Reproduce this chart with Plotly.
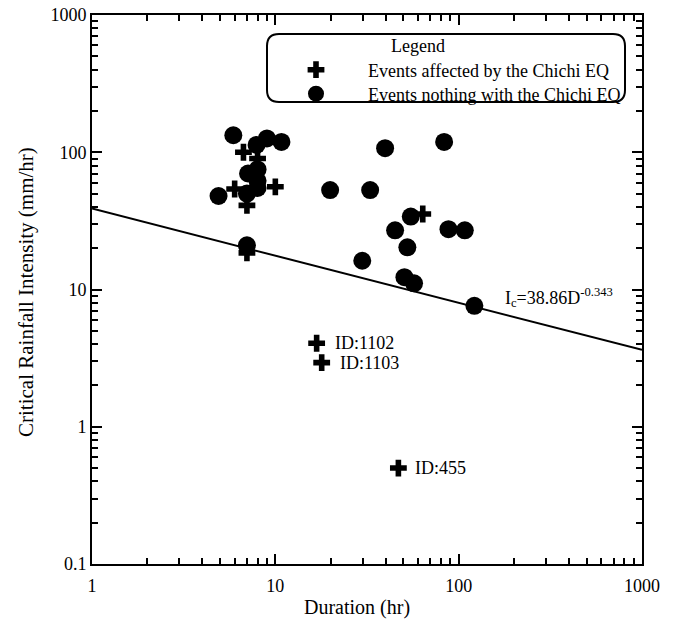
import math
import plotly.graph_objects as go

# Events affected by the Chichi EQ (plus markers)
aff_dur = [6.7, 8.0, 6.0, 10.0, 7.0, 7.0, 63.7, 16.8, 17.9, 46.9]
aff_int = [100, 90, 54, 56, 41, 18.5, 35.5, 4.06, 2.93, 0.5]

# Events nothing with the Chichi EQ (filled circles)
non_dur = [5.9, 9.0, 10.8, 7.9, 7.1, 8.0, 8.0, 4.9, 7.0, 8.0, 7.0,
           39.7, 83.3, 19.9, 32.9, 54.8, 45.0, 88.0, 108.0, 52.5, 29.8, 50.6, 57.1, 121.8]
non_int = [133, 126, 119, 113, 70, 75, 62, 48, 50, 55, 21,
           107, 119, 53, 53, 34, 27, 27.5, 27, 20.3, 16.2, 12.3, 11.1, 7.6]

# Threshold line Ic = a * D^b
coef_a = 38.86
coef_b = -0.343
line_dur = [1, 1000]
line_int = [coef_a * d ** coef_b for d in line_dur]
eq_label_pos = (179, 8.7)

# Labelled events
id_labels = ["ID:1102", "ID:1103", "ID:455"]
id_dur = [21.2, 22.5, 57.8]
id_int = [4.06, 2.93, 0.5]

x_ticks = [1, 10, 100, 1000]
y_ticks = [0.1, 1, 10, 100, 1000]

FONT = "Liberation Serif"

W, H = 673, 623
L, R, T, B = 92, 31, 15, 59
PW, PH = W - L - R, H - T - B

def px(xp):
    return (xp - L) / PW

def py(yp):
    return (H - B - yp) / PH

fig = go.Figure()
fig.add_trace(go.Scatter(x=line_dur, y=line_int, mode="lines",
                         line=dict(color="black", width=2), showlegend=False, hoverinfo="skip"))
fig.add_trace(go.Scatter(x=aff_dur, y=aff_int, mode="markers", name="Events affected by the Chichi EQ",
                         legend="legend",
                         marker=dict(symbol="cross", size=14, color="black", line=dict(width=0))))
fig.add_trace(go.Scatter(x=non_dur, y=non_int, mode="markers", name="Events nothing with the Chichi EQ",
                         legend="legend2",
                         marker=dict(symbol="circle", size=18, color="black", line=dict(width=0))))

for t, xv, yv in zip(id_labels, id_dur, id_int):
    fig.add_annotation(x=math.log10(xv), y=math.log10(yv), xref="x", yref="y", text=t, showarrow=False,
                       xanchor="left", yanchor="middle", xshift=-2,
                       font=dict(family=FONT, size=18, color="black"))

fig.add_annotation(x=math.log10(eq_label_pos[0]), y=math.log10(eq_label_pos[1]), xref="x", yref="y",
                   text="I<sub>c</sub>=38.86D<sup>-0.343</sup>", showarrow=False,
                   xanchor="left", yanchor="middle", xshift=-2,
                   font=dict(family=FONT, size=18, color="black"))

minor_vals = [m * 10 ** e for e in range(-1, 3) for m in range(2, 10)]

axis_common = dict(type="log", showgrid=False, zeroline=False, showline=True, linecolor="black",
                   linewidth=2, mirror="ticks", ticks="inside", ticklen=10, tickwidth=2,
                   tickcolor="black", tickmode="array", automargin=False, ticklabeloverflow="allow",
                   tickfont=dict(family=FONT, size=18, color="black"),
                   minor=dict(ticks="inside", ticklen=6, tickwidth=2, tickcolor="black",
                              tickmode="array", tickvals=minor_vals, showgrid=False))

fig.update_xaxes(**axis_common, range=[0, 3], tickvals=x_ticks, ticktext=[str(v) for v in x_ticks],
                 ticklabelstandoff=4)
fig.update_yaxes(**axis_common, range=[-1, 3], tickvals=y_ticks, ticktext=[str(v) for v in y_ticks])

# axis titles
fig.add_annotation(x=px(357), y=py(607), xref="paper", yref="paper", text="Duration (hr)",
                   showarrow=False, xanchor="center", yanchor="middle",
                   font=dict(family=FONT, size=20, color="black"))
fig.add_annotation(x=px(26), y=py(292), xref="paper", yref="paper",
                   text="Critical Rainfall Intensity (mm/hr)", textangle=-90,
                   showarrow=False, xanchor="center", yanchor="middle",
                   font=dict(family=FONT, size=21, color="black"))

# legend title
fig.add_annotation(x=px(418), y=py(46), xref="paper", yref="paper", text="Legend",
                   showarrow=False, xanchor="center", yanchor="middle",
                   font=dict(family=FONT, size=18, color="black"))

# rounded legend frame (paper coords)
x0, x1, y0, y1 = px(267), px(625), py(102), py(34)
rx, ry = 12 / PW, 12 / PH
path = (f"M{x0+rx},{y1} L{x1-rx},{y1} Q{x1},{y1} {x1},{y1-ry} L{x1},{y0+ry} Q{x1},{y0} {x1-rx},{y0} "
        f"L{x0+rx},{y0} Q{x0},{y0} {x0},{y0+ry} L{x0},{y1-ry} Q{x0},{y1} {x0+rx},{y1} Z")
fig.add_shape(type="path", path=path, xref="paper", yref="paper",
              line=dict(color="black", width=2), fillcolor="white", layer="below")

legend_common = dict(xanchor="left", yanchor="middle", bgcolor="rgba(0,0,0,0)", borderwidth=0,
                     font=dict(family=FONT, size=18, color="black"), itemwidth=94)

fig.update_layout(
    width=W, height=H,
    margin=dict(l=L, r=R, t=T, b=B),
    plot_bgcolor="white", paper_bgcolor="white",
    font=dict(family=FONT, size=18, color="black"),
    legend=dict(x=px(264), y=py(70), **legend_common),
    legend2=dict(x=px(264), y=py(94), **legend_common),
)

fig.write_html("out.html", config={"displayModeBar": False},
               post_script="document.body.style.margin='0';document.body.style.overflow='hidden';")
